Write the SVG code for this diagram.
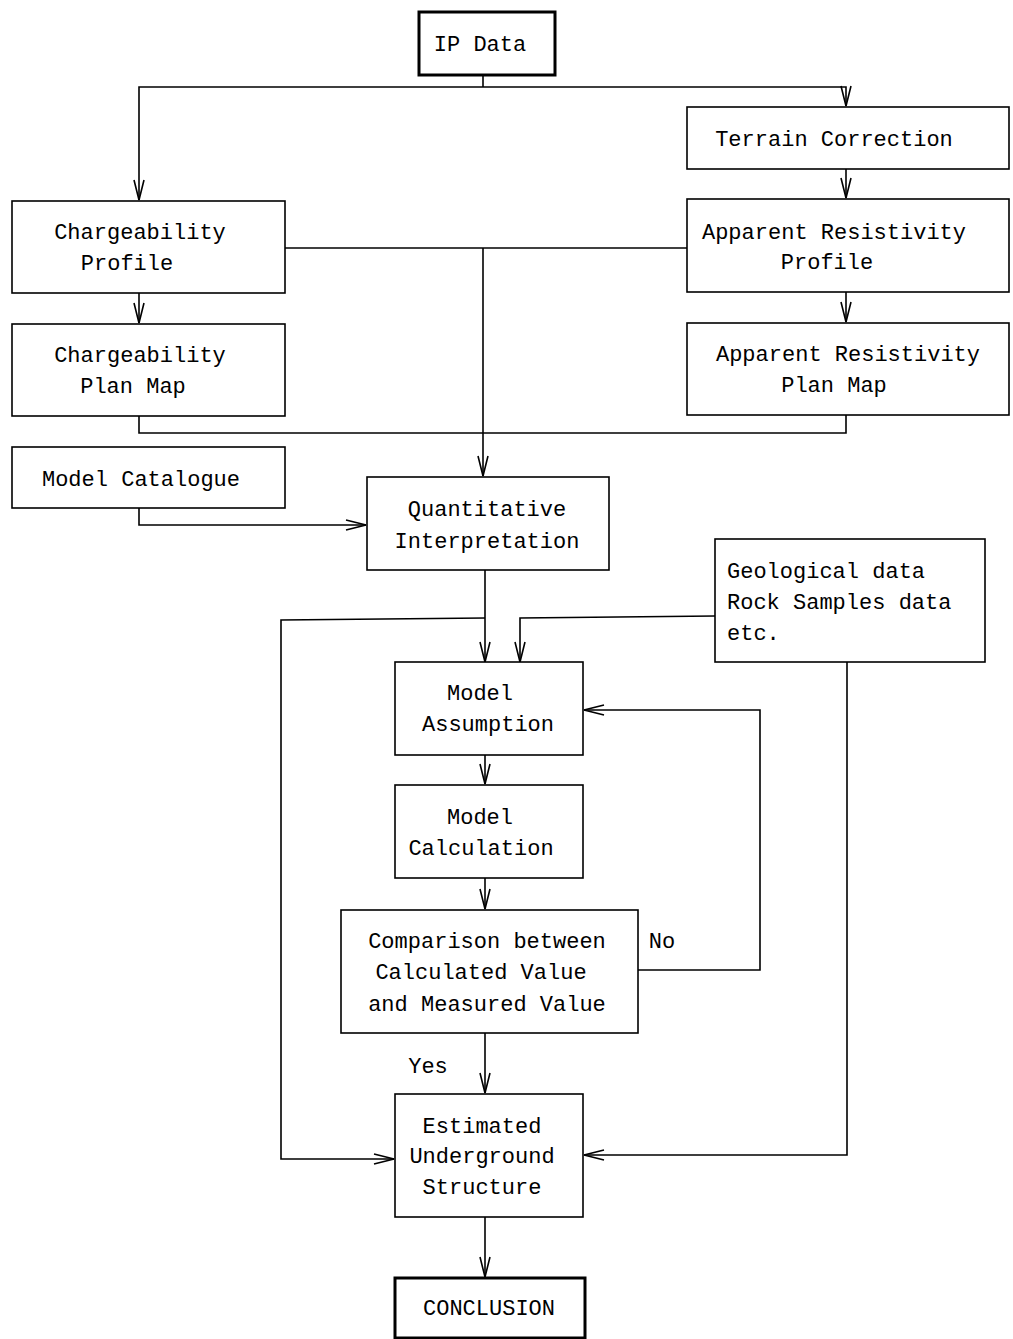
<svg xmlns="http://www.w3.org/2000/svg" width="1013" height="1339" viewBox="0 0 1013 1339">
<style>
.box{fill:#fff;stroke:#000;stroke-width:1.6}
.thick{fill:#fff;stroke:#000;stroke-width:3}
.t{font-family:"Liberation Mono","DejaVu Sans Mono",monospace;font-size:22px;fill:#000;text-anchor:middle}
.l{text-anchor:start}
.c{fill:none;stroke:#000;stroke-width:1.6}
</style>
<defs>
<marker id="a" markerUnits="userSpaceOnUse" markerWidth="24" markerHeight="14" viewBox="-22 -7 24 14" refX="0" refY="0" orient="auto">
<path d="M-20,-5 L0,0 L-20,5" fill="none" stroke="#000" stroke-width="1.6"/>
</marker>
</defs>
<rect width="1013" height="1339" fill="#fff"/>
<g id="connectors">
<polyline class="c" points="483,75 483,87"/>
<polyline class="c" points="483,87 139,87 139,200" marker-end="url(#a)"/>
<polyline class="c" points="483,87 846,87 846,106" marker-end="url(#a)"/>
<polyline class="c" points="846,169 846,198" marker-end="url(#a)"/>
<polyline class="c" points="285,248 687,248"/>
<polyline class="c" points="483,248 483,476" marker-end="url(#a)"/>
<polyline class="c" points="139,293 139,323" marker-end="url(#a)"/>
<polyline class="c" points="846,292 846,322" marker-end="url(#a)"/>
<polyline class="c" points="139,416 139,433 846,433 846,415"/>
<polyline class="c" points="139,508 139,525 366,525" marker-end="url(#a)"/>
<polyline class="c" points="485,570 485,662" marker-end="url(#a)"/>
<polyline class="c" points="485,618 281,620 281,1159 394,1159" marker-end="url(#a)"/>
<polyline class="c" points="715,616 520,618 520,662" marker-end="url(#a)"/>
<polyline class="c" points="847,662 847,1155 584,1155" marker-end="url(#a)"/>
<polyline class="c" points="485,755 485,784" marker-end="url(#a)"/>
<polyline class="c" points="485,878 485,909" marker-end="url(#a)"/>
<polyline class="c" points="638,970 760,970 760,710 584,710" marker-end="url(#a)"/>
<polyline class="c" points="485,1033 485,1093" marker-end="url(#a)"/>
<polyline class="c" points="485,1217 485,1277" marker-end="url(#a)"/>
<text class="t" x="662" y="948">No</text>
<text class="t" x="428" y="1073">Yes</text>
</g>
<g id="ip-data"><rect class="thick" x="419" y="12" width="136" height="63"/><text class="t" x="480" y="51">IP Data</text></g>
<g id="terrain-correction"><rect class="box" x="687" y="107" width="322" height="62"/><text class="t" x="834" y="146">Terrain Correction</text></g>
<g id="chargeability-profile"><rect class="box" x="12" y="201" width="273" height="92"/><text class="t" x="140" y="239">Chargeability</text><text class="t" x="127" y="270">Profile</text></g>
<g id="apparent-resistivity-profile"><rect class="box" x="687" y="199" width="322" height="93"/><text class="t" x="834" y="239">Apparent Resistivity</text><text class="t" x="827" y="269">Profile</text></g>
<g id="chargeability-plan-map"><rect class="box" x="12" y="324" width="273" height="92"/><text class="t" x="140" y="362">Chargeability</text><text class="t" x="133" y="393">Plan Map</text></g>
<g id="apparent-resistivity-plan-map"><rect class="box" x="687" y="323" width="322" height="92"/><text class="t" x="848" y="361">Apparent Resistivity</text><text class="t" x="834" y="392">Plan Map</text></g>
<g id="model-catalogue"><rect class="box" x="12" y="447" width="273" height="61"/><text class="t" x="141" y="486">Model Catalogue</text></g>
<g id="quantitative-interpretation"><rect class="box" x="367" y="477" width="242" height="93"/><text class="t" x="487" y="516">Quantitative</text><text class="t" x="487" y="548">Interpretation</text></g>
<g id="geological-data"><rect class="box" x="715" y="539" width="270" height="123"/><text class="t l" x="727" y="578">Geological data</text><text class="t l" x="727" y="609">Rock Samples data</text><text class="t l" x="727" y="640">etc.</text></g>
<g id="model-assumption"><rect class="box" x="395" y="662" width="188" height="93"/><text class="t" x="480" y="700">Model</text><text class="t" x="488" y="731">Assumption</text></g>
<g id="model-calculation"><rect class="box" x="395" y="785" width="188" height="93"/><text class="t" x="480" y="824">Model</text><text class="t" x="481" y="855">Calculation</text></g>
<g id="comparison"><rect class="box" x="341" y="910" width="297" height="123"/><text class="t" x="487" y="948">Comparison between</text><text class="t" x="481" y="979">Calculated Value</text><text class="t" x="487" y="1011">and Measured Value</text></g>
<g id="estimated-underground-structure"><rect class="box" x="395" y="1094" width="188" height="123"/><text class="t" x="482" y="1133">Estimated</text><text class="t" x="482" y="1163">Underground</text><text class="t" x="482" y="1194">Structure</text></g>
<g id="conclusion"><rect class="thick" x="395" y="1278" width="190" height="60"/><text class="t" x="489" y="1315">CONCLUSION</text></g>
</svg>
